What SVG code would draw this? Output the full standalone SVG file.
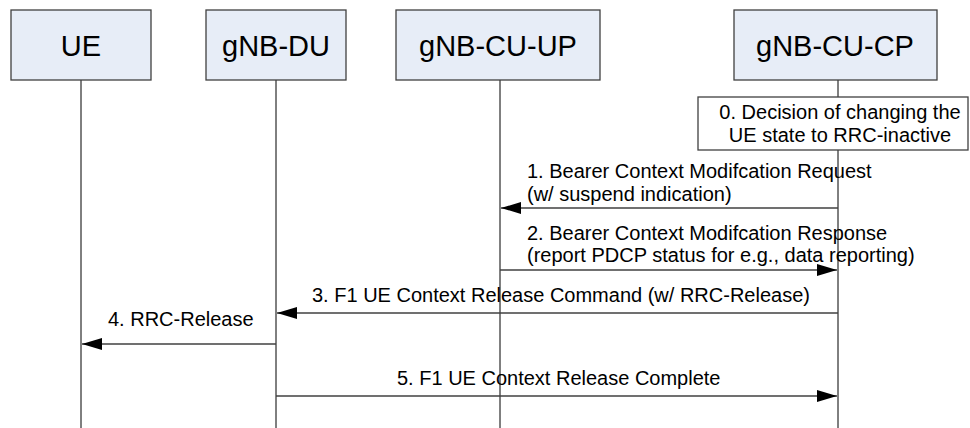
<svg xmlns="http://www.w3.org/2000/svg" width="970" height="428" viewBox="0 0 970 428">
<style>
.hdr{fill:#e7edf7;stroke:#404040;stroke-width:1.3}
.ht{font-family:"Liberation Sans",Arial,sans-serif;font-size:29px;fill:#000;text-anchor:middle}
.life{stroke:#000;stroke-width:1;fill:none}
.msg{stroke:#404040;stroke-width:1.3;fill:none;marker-end:url(#ah)}
.mt{font-family:"Liberation Sans",Arial,sans-serif;font-size:20px;fill:#000}
.box{fill:#fff;stroke:#404040;stroke-width:1.3}
</style>
<defs>
<marker id="ah" markerWidth="20" markerHeight="12" refX="20" refY="6" orient="auto" markerUnits="userSpaceOnUse">
<path d="M0,0 L20,6 L0,12 Z" fill="#000"/>
</marker>
</defs>
<g id="lifelines">
<line class="life" x1="81" y1="80" x2="81" y2="428"/>
<line class="life" x1="276" y1="80" x2="276" y2="428"/>
<line class="life" x1="500" y1="80" x2="500" y2="428"/>
<line class="life" x1="838" y1="80" x2="838" y2="97"/>
<line class="life" x1="838" y1="150" x2="838" y2="428"/>
</g>
<g id="ue"><rect class="hdr" x="11" y="10" width="140" height="70"/><text class="ht" x="81" y="56">UE</text></g>
<g id="gnb-du"><rect class="hdr" x="206" y="10" width="140" height="70"/><text class="ht" x="276" y="56">gNB-DU</text></g>
<g id="gnb-cu-up"><rect class="hdr" x="396" y="10" width="204" height="70"/><text class="ht" x="498" y="56">gNB-CU-UP</text></g>
<g id="gnb-cu-cp"><rect class="hdr" x="734" y="10" width="203" height="70"/><text class="ht" x="835" y="56">gNB-CU-CP</text></g>
<g id="step0">
<rect class="box" x="698" y="97" width="270" height="53"/>
<text class="mt" x="840" y="119" text-anchor="middle">0. Decision of changing the</text>
<text class="mt" x="840" y="142" text-anchor="middle">UE state to RRC-inactive</text>
</g>
<g id="connectors">
<line class="msg" x1="838" y1="208" x2="501" y2="208"/>
<line class="msg" x1="500" y1="270" x2="837" y2="270"/>
<line class="msg" x1="838" y1="313" x2="277" y2="313"/>
<line class="msg" x1="276" y1="344" x2="82" y2="344"/>
<line class="msg" x1="276" y1="396" x2="837" y2="396"/>
</g>
<g id="labels">
<text class="mt" x="527" y="178">1. Bearer Context Modifcation Request</text>
<text class="mt" x="527" y="201">(w/ suspend indication)</text>
<text class="mt" x="527" y="240">2. Bearer Context Modifcation Response</text>
<text class="mt" x="527" y="262">(report PDCP status for e.g., data reporting)</text>
<text class="mt" x="312" y="302">3. F1 UE Context Release Command (w/ RRC-Release)</text>
<text class="mt" x="108" y="326">4. RRC-Release</text>
<text class="mt" x="397" y="385">5. F1 UE Context Release Complete</text>
</g>
</svg>
